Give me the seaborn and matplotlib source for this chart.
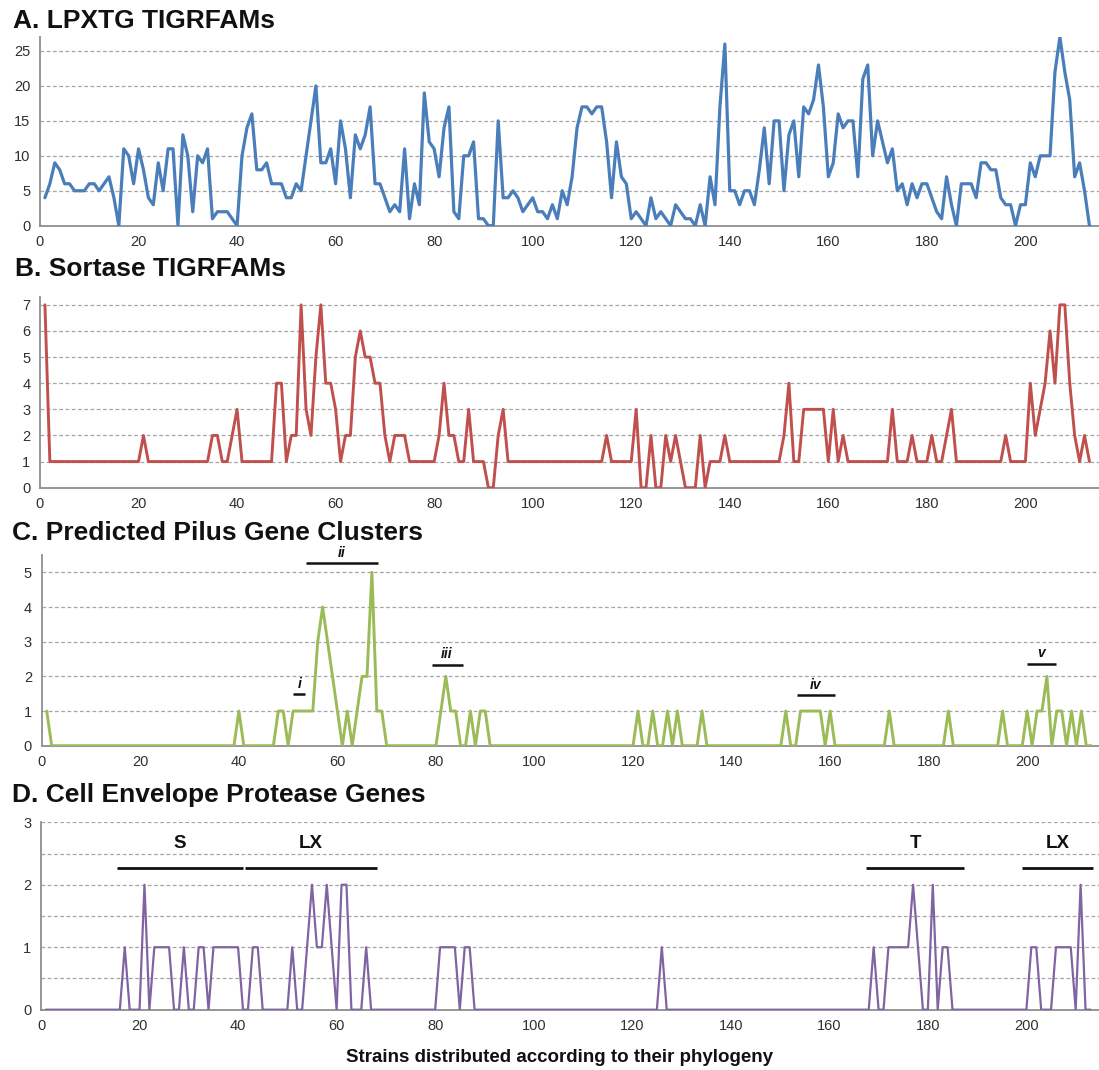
import matplotlib
matplotlib.use("Agg")
import matplotlib.pyplot as plt
import matplotlib.ticker as mticker
import pandas as pd
import seaborn as sns

# Strain index along the phylogeny
strains = list(range(1, 214))

# A. LPXTG TIGRFAMs per strain
lpxtg = [
    4, 6, 9, 8, 6, 6, 5, 5, 5, 6,
    6, 5, 6, 7, 4, 0, 11, 10, 6, 11,
    8, 4, 3, 9, 5, 11, 11, 0, 13, 10,
    2, 10, 9, 11, 1, 2, 2, 2, 1, 0,
    10, 14, 16, 8, 8, 9, 6, 6, 6, 4,
    4, 6, 5, 10, 15, 20, 9, 9, 11, 6,
    15, 11, 4, 13, 11, 13, 17, 6, 6, 4,
    2, 3, 2, 11, 1, 6, 3, 19, 12, 11,
    7, 14, 17, 2, 1, 10, 10, 12, 1, 1,
    0, 0, 15, 4, 4, 5, 4, 2, 3, 4,
    2, 2, 1, 3, 1, 5, 3, 7, 14, 17,
    17, 16, 17, 17, 12, 4, 12, 7, 6, 1,
    2, 1, 0, 4, 1, 2, 1, 0, 3, 2,
    1, 1, 0, 3, 0, 7, 3, 17, 26, 5,
    5, 3, 5, 5, 3, 8, 14, 6, 15, 15,
    5, 13, 15, 7, 17, 16, 18, 23, 17, 7,
    9, 16, 14, 15, 15, 7, 21, 23, 10, 15,
    12, 9, 11, 5, 6, 3, 6, 4, 6, 6,
    4, 2, 1, 7, 3, 0, 6, 6, 6, 4,
    9, 9, 8, 8, 4, 3, 3, 0, 3, 3,
    9, 7, 10, 10, 10, 22, 27, 22, 18, 7,
    9, 5, 0,
]

# B. Sortase TIGRFAMs per strain
sortase = [
    7, 1, 1, 1, 1, 1, 1, 1, 1, 1,
    1, 1, 1, 1, 1, 1, 1, 1, 1, 1,
    2, 1, 1, 1, 1, 1, 1, 1, 1, 1,
    1, 1, 1, 1, 2, 2, 1, 1, 2, 3,
    1, 1, 1, 1, 1, 1, 1, 4, 4, 1,
    2, 2, 7, 3, 2, 5, 7, 4, 4, 3,
    1, 2, 2, 5, 6, 5, 5, 4, 4, 2,
    1, 2, 2, 2, 1, 1, 1, 1, 1, 1,
    2, 4, 2, 2, 1, 1, 3, 1, 1, 1,
    0, 0, 2, 3, 1, 1, 1, 1, 1, 1,
    1, 1, 1, 1, 1, 1, 1, 1, 1, 1,
    1, 1, 1, 1, 2, 1, 1, 1, 1, 1,
    3, 0, 0, 2, 0, 0, 2, 1, 2, 1,
    0, 0, 0, 2, 0, 1, 1, 1, 2, 1,
    1, 1, 1, 1, 1, 1, 1, 1, 1, 1,
    2, 4, 1, 1, 3, 3, 3, 3, 3, 1,
    3, 1, 2, 1, 1, 1, 1, 1, 1, 1,
    1, 1, 3, 1, 1, 1, 2, 1, 1, 1,
    2, 1, 1, 2, 3, 1, 1, 1, 1, 1,
    1, 1, 1, 1, 1, 2, 1, 1, 1, 1,
    4, 2, 3, 4, 6, 4, 7, 7, 4, 2,
    1, 2, 1,
]

# C. Predicted pilus gene clusters per strain
pilus = [
    1, 0, 0, 0, 0, 0, 0, 0, 0, 0,
    0, 0, 0, 0, 0, 0, 0, 0, 0, 0,
    0, 0, 0, 0, 0, 0, 0, 0, 0, 0,
    0, 0, 0, 0, 0, 0, 0, 0, 0, 1,
    0, 0, 0, 0, 0, 0, 0, 1, 1, 0,
    1, 1, 1, 1, 1, 3, 4, 3, 2, 1,
    0, 1, 0, 1, 2, 2, 5, 1, 1, 0,
    0, 0, 0, 0, 0, 0, 0, 0, 0, 0,
    1, 2, 1, 1, 0, 0, 1, 0, 1, 1,
    0, 0, 0, 0, 0, 0, 0, 0, 0, 0,
    0, 0, 0, 0, 0, 0, 0, 0, 0, 0,
    0, 0, 0, 0, 0, 0, 0, 0, 0, 0,
    1, 0, 0, 1, 0, 0, 1, 0, 1, 0,
    0, 0, 0, 1, 0, 0, 0, 0, 0, 0,
    0, 0, 0, 0, 0, 0, 0, 0, 0, 0,
    1, 0, 0, 1, 1, 1, 1, 1, 0, 1,
    0, 0, 0, 0, 0, 0, 0, 0, 0, 0,
    0, 1, 0, 0, 0, 0, 0, 0, 0, 0,
    0, 0, 0, 1, 0, 0, 0, 0, 0, 0,
    0, 0, 0, 0, 1, 0, 0, 0, 0, 1,
    0, 1, 1, 2, 0, 1, 1, 0, 1, 0,
    1, 0, 0,
]

# D. Cell envelope protease genes per strain
protease = [
    0, 0, 0, 0, 0, 0, 0, 0, 0, 0,
    0, 0, 0, 0, 0, 0, 1, 0, 0, 0,
    2, 0, 1, 1, 1, 1, 0, 0, 1, 0,
    0, 1, 1, 0, 1, 1, 1, 1, 1, 1,
    0, 0, 1, 1, 0, 0, 0, 0, 0, 0,
    1, 0, 0, 1, 2, 1, 1, 2, 1, 0,
    2, 2, 0, 0, 0, 1, 0, 0, 0, 0,
    0, 0, 0, 0, 0, 0, 0, 0, 0, 0,
    1, 1, 1, 1, 0, 1, 1, 0, 0, 0,
    0, 0, 0, 0, 0, 0, 0, 0, 0, 0,
    0, 0, 0, 0, 0, 0, 0, 0, 0, 0,
    0, 0, 0, 0, 0, 0, 0, 0, 0, 0,
    0, 0, 0, 0, 0, 1, 0, 0, 0, 0,
    0, 0, 0, 0, 0, 0, 0, 0, 0, 0,
    0, 0, 0, 0, 0, 0, 0, 0, 0, 0,
    0, 0, 0, 0, 0, 0, 0, 0, 0, 0,
    0, 0, 0, 0, 0, 0, 0, 0, 1, 0,
    0, 1, 1, 1, 1, 1, 2, 1, 0, 0,
    2, 0, 1, 1, 0, 0, 0, 0, 0, 0,
    0, 0, 0, 0, 0, 0, 0, 0, 0, 0,
    1, 1, 0, 0, 0, 1, 1, 1, 1, 0,
    2, 0, 0,
]

# Pilus cluster brackets: (label, first strain, last strain, bar height)
pilus_clusters = [
    ("i", 51.0, 53.5, 1.48),
    ("ii", 53.6, 68.3, 5.26),
    ("iii", 79.1, 85.4, 2.34),
    ("iv", 153.2, 161.0, 1.46),
    ("v", 199.9, 205.8, 2.36),
]

# Protease groups: (label, first strain, last strain, bar height)
protease_groups = [
    ("S", 15.5, 40.9, 2.27),
    ("LX", 41.5, 68.1, 2.27),
    ("T", 167.4, 187.4, 2.27),
    ("LX", 199.2, 213.5, 2.27),
]

df = pd.DataFrame({
    "strain": strains,
    "lpxtg": lpxtg,
    "sortase": sortase,
    "pilus": pilus,
    "protease": protease,
})

sns.set_style("white")
plt.rcParams["font.family"] = ["Liberation Sans", "DejaVu Sans"]

W, H = 1099, 1070
fig = plt.figure(figsize=(W / 100, H / 100), dpi=100)

AXIS_GREY = "#8f8f8f"
GRID_GREY = "#a6a6a6"


def px_axes(left, top, right, bottom):
    return fig.add_axes([left / W, 1 - bottom / H, (right - left) / W, (bottom - top) / H])


panels = [
    # column, title, colour, line width, axes box (px), y-limit, y major, title pos
    ("lpxtg", "A. LPXTG TIGRFAMs", "#4a7ebb", 2.3, (40, 37, 1099, 225.7), 27, 5, (13, 21)),
    ("sortase", "B. Sortase TIGRFAMs", "#c0504d", 2.1, (40, 297, 1099, 487.7), 7.3, 1, (15, 268.5)),
    ("pilus", "C. Predicted Pilus Gene Clusters", "#9bbb59", 2.1, (41.8, 555, 1099, 745.7), 5.5, 1, (12, 533.5)),
    ("protease", "D. Cell Envelope Protease Genes", "#8064a2", 1.6, (41, 822.3, 1099, 1009.7), 3.0, 0.5, (12, 795)),
]

axes = {}
for col, title, color, lw, box, ytop, ystep, tpos in panels:
    left, top, right, bottom = box
    ax = px_axes(left, top, right, bottom)
    axes[col] = ax
    x_right = (right - left) / 4.927
    sns.lineplot(data=df, x="strain", y=col, ax=ax, color=color, linewidth=lw,
                 estimator=None, errorbar=None, zorder=3)
    ax.set_xlim(0, x_right)
    ax.set_ylim(0, ytop)
    ax.set_xlabel("")
    ax.set_ylabel("")
    ax.xaxis.set_major_locator(mticker.MultipleLocator(20))
    ax.yaxis.set_major_locator(mticker.MultipleLocator(ystep))
    if ystep < 1:
        ax.yaxis.set_major_formatter(mticker.FuncFormatter(
            lambda v, p: f"{int(round(v))}" if abs(v - round(v)) < 1e-6 else ""))
    else:
        ax.yaxis.set_major_formatter(mticker.FormatStrFormatter("%d"))
    ax.grid(False)
    ax.yaxis.grid(True, linestyle=(0, (3, 2)), color=GRID_GREY, linewidth=0.9, zorder=0)
    for side in ("top", "right"):
        ax.spines[side].set_visible(False)
    for side in ("left", "bottom"):
        ax.spines[side].set_color(AXIS_GREY)
        ax.spines[side].set_linewidth(1.3)
    ax.tick_params(axis="both", direction="out", length=4, width=1, color=AXIS_GREY,
                   labelsize=10.5, labelcolor="#303030", pad=3)
    ax.patch.set_alpha(0)
    fig.text(tpos[0] / W, 1 - tpos[1] / H, title, fontsize=19, fontweight="bold",
             ha="left", va="center", color="#111111")

# Pilus cluster brackets
axc = axes["pilus"]
for label, x0, x1, yb in pilus_clusters:
    axc.plot([x0, x1], [yb, yb], color="#111111", linewidth=1.8, clip_on=False,
             solid_capstyle="butt", zorder=4)
    axc.text((x0 + x1) / 2, yb + 0.3, label, ha="center", va="center", fontsize=10,
             fontweight="bold", style="italic", color="#111111", clip_on=False)

# Protease group brackets
axd = axes["protease"]
for label, x0, x1, yb in protease_groups:
    axd.plot([x0, x1], [yb, yb], color="#111111", linewidth=2.0, clip_on=False,
             solid_capstyle="butt", zorder=4)
    axd.text((x0 + x1) / 2, yb + 0.39, label, ha="center", va="center", fontsize=13.5,
             fontweight="bold", color="#111111")

fig.text(559 / W, 1 - 1057 / H, "Strains distributed according to their phylogeny",
         ha="center", va="center", fontsize=13.5, fontweight="bold", color="#111111")

fig.savefig("out.png", dpi=100)
